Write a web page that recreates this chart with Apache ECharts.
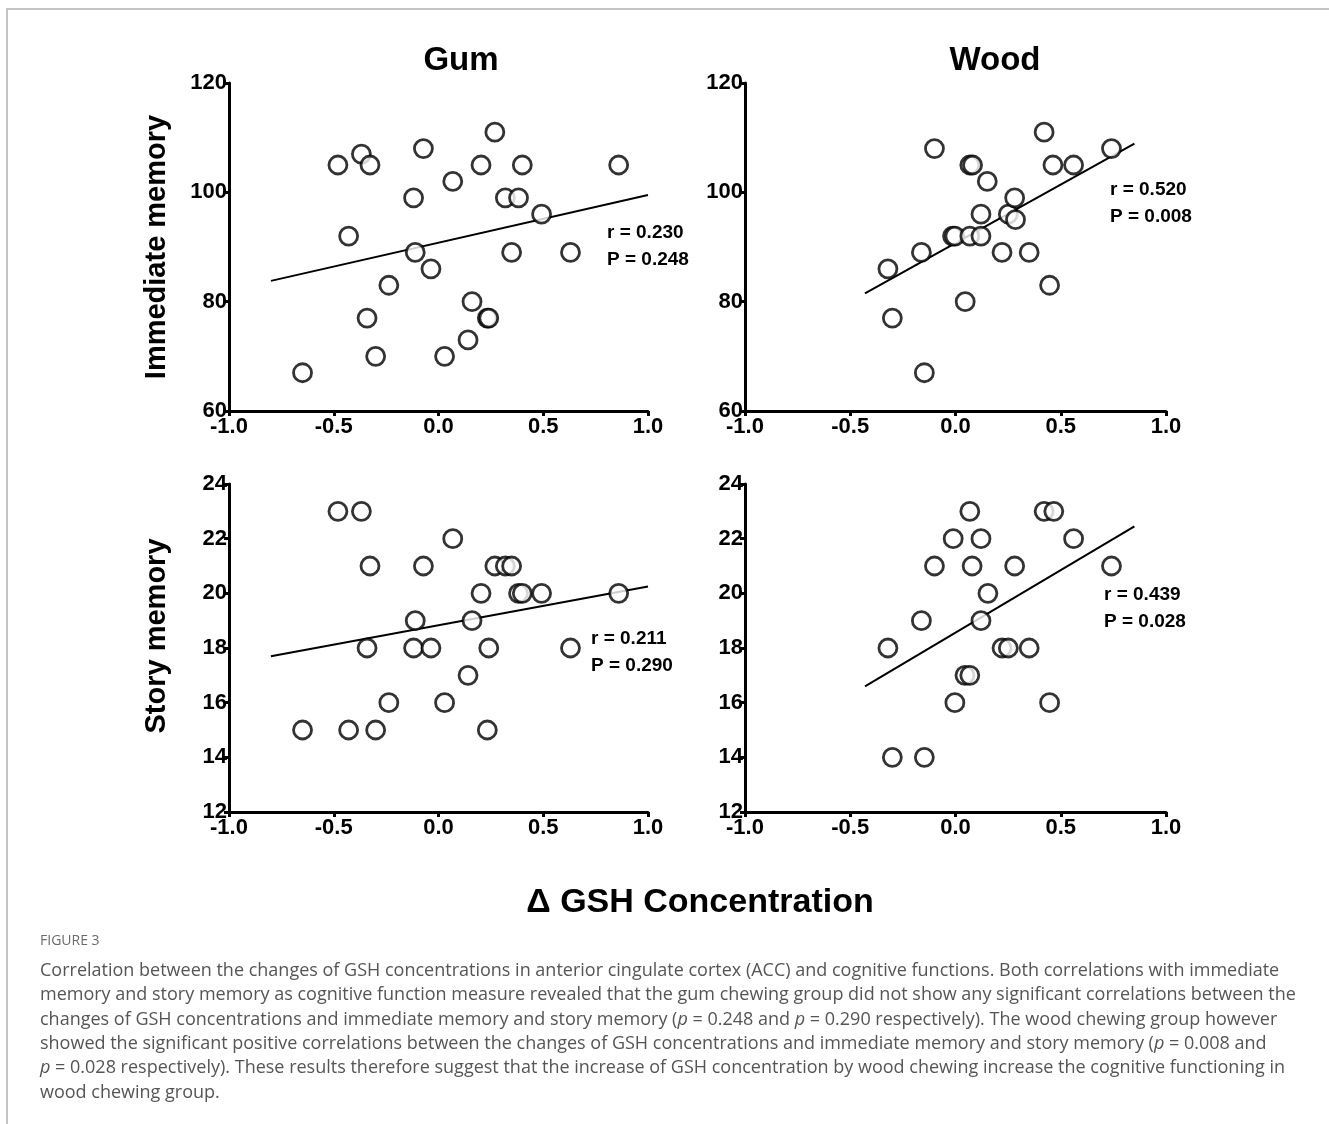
<!DOCTYPE html>
<html><head><meta charset="utf-8">
<script src="https://cdn.jsdelivr.net/npm/echarts@6/dist/echarts.min.js"></script>
<style>html,body{margin:0;padding:0;background:#fff}#c{width:1329px;height:1124px}</style>
</head><body><div id="c"></div>
<script>
// ---------- DATA ----------
const xTicks = [-1.0, -0.5, 0.0, 0.5, 1.0];
const panelTitles = ['Gum', 'Wood'];
const rowTitles = ['Immediate memory', 'Story memory'];
const xAxisTitle = '\u0394 GSH Concentration';

// Gum group: change of GSH (x) per subject, immediate memory and story memory
const gumX = [-0.649, -0.480, -0.368, -0.327, -0.429, -0.237, -0.341, -0.300, -0.119, -0.072, -0.111, -0.036, 0.068, 0.029, 0.203, 0.269, 0.160, 0.141, 0.233, 0.240, 0.319, 0.382, 0.400, 0.492, 0.349, 0.630, 0.860];
const gumImmediate = [67, 105, 107, 105, 92, 83, 77, 70, 99, 108, 89, 86, 102, 70, 105, 111, 80, 73, 77, 77, 99, 99, 105, 96, 89, 89, 105];
const gumStory = [15, 23, 23, 21, 15, 16, 18, 15, 18, 21, 19, 18, 22, 16, 20, 21, 19, 17, 15, 18, 21, 20, 20, 20, 21, 18, 20];

// Wood group
const woodImmX = [-0.321, -0.300, -0.162, -0.148, -0.100, -0.014, -0.003, 0.046, 0.068, 0.081, 0.068, 0.121, 0.121, 0.151, 0.221, 0.251, 0.281, 0.285, 0.350, 0.421, 0.463, 0.447, 0.561, 0.741];
const woodImmediate = [86, 77, 89, 67, 108, 92, 92, 80, 105, 105, 92, 96, 92, 102, 89, 96, 99, 95, 89, 111, 105, 83, 105, 108];
const woodStoryX = [-0.321, -0.300, -0.162, -0.148, -0.100, -0.011, -0.003, 0.045, 0.068, 0.068, 0.079, 0.121, 0.121, 0.154, 0.221, 0.251, 0.281, 0.350, 0.421, 0.467, 0.447, 0.561, 0.741];
const woodStory = [18, 14, 19, 14, 21, 22, 16, 17, 17, 23, 21, 22, 19, 20, 18, 18, 21, 18, 23, 23, 16, 22, 21];

// Regression lines (end points)
const gumImmFit = [[-0.80, 83.8], [1.00, 99.5]];
const woodImmFit = [[-0.43, 81.5], [0.85, 108.9]];
const gumStoryFit = [[-0.80, 17.7], [1.00, 20.25]];
const woodStoryFit = [[-0.43, 16.6], [0.85, 22.45]];

const statLabels = [['r = 0.230', 'P = 0.248'], ['r = 0.520', 'P = 0.008'], ['r = 0.211', 'P = 0.290'], ['r = 0.439', 'P = 0.028']];

const figureLabel = 'FIGURE 3';
const captionLines = [
  'Correlation between the changes of GSH concentrations in anterior cingulate cortex (ACC) and cognitive functions. Both correlations with immediate',
  'memory and story memory as cognitive function measure revealed that the gum chewing group did not show any significant correlations between the',
  'changes of GSH concentrations and immediate memory and story memory ({i|p} = 0.248 and {i|p} = 0.290 respectively). The wood chewing group however',
  'showed the significant positive correlations between the changes of GSH concentrations and immediate memory and story memory ({i|p} = 0.008 and',
  '{i|p} = 0.028 respectively). These results therefore suggest that the increase of GSH concentration by wood chewing increase the cognitive functioning in',
  'wood chewing group.'
];

// ---------- CHART ----------
const FONT = '"Liberation Sans", Arial, Helvetica, sans-serif';
const CAP_FONT = '"Open Sans", "Noto Sans", sans-serif';
const zip = (xs, ys) => xs.map((x, i) => [x, ys[i]]);

const grids = [
  {left: 229, top: 83, width: 419, height: 328},
  {left: 745, top: 83, width: 421, height: 328},
  {left: 229, top: 484, width: 419, height: 328},
  {left: 745, top: 484, width: 421, height: 328}
];
const axisCommon = {
  axisLine: {show: true, onZero: false, lineStyle: {color: '#000', width: 3}},
  axisTick: {show: true, length: 5, lineStyle: {color: '#000', width: 3}},
  splitLine: {show: false},
  axisLabel: {color: '#000', fontWeight: 'bold', fontSize: 22, fontFamily: FONT}
};
const xAxes = grids.map((g, i) => Object.assign({}, axisCommon, {
  type: 'value', gridIndex: i, min: xTicks[0], max: xTicks[xTicks.length - 1], interval: 0.5,
  axisLabel: Object.assign({}, axisCommon.axisLabel, {margin: 5, formatter: v => v.toFixed(1), showMinLabel: true, showMaxLabel: true})
}));
const yRanges = [[60, 120, 20], [60, 120, 20], [12, 24, 2], [12, 24, 2]];
const yAxes = grids.map((g, i) => Object.assign({}, axisCommon, {
  type: 'value', gridIndex: i, min: yRanges[i][0], max: yRanges[i][1], interval: yRanges[i][2],
  axisLabel: Object.assign({}, axisCommon.axisLabel, {margin: 2, showMinLabel: true, showMaxLabel: true})
}));

const scatterStyle = {color: '#fff', borderColor: '#000', borderWidth: 2.8};
const panels = [
  {pts: zip(gumX, gumImmediate), fit: gumImmFit},
  {pts: zip(woodImmX, woodImmediate), fit: woodImmFit},
  {pts: zip(gumX, gumStory), fit: gumStoryFit},
  {pts: zip(woodStoryX, woodStory), fit: woodStoryFit}
];
const series = [];
panels.forEach((p, i) => {
  series.push({type: 'line', xAxisIndex: i, yAxisIndex: i, data: p.fit, showSymbol: false, symbol: 'none',
    lineStyle: {color: '#000', width: 2}, z: 2, silent: true, animation: false});
  series.push({type: 'scatter', xAxisIndex: i, yAxisIndex: i, data: p.pts, symbol: 'circle', symbolSize: 18,
    itemStyle: scatterStyle, z: 3, animation: false});
});

const statPos = [[607, 233], [1110, 190], [591, 639], [1104, 595]];
const graphic = [];
graphic.push({type: 'rect', shape: {x: 7, y: 9, width: 1400, height: 1300}, style: {fill: 'none', stroke: '#c4c4c4', lineWidth: 2}, silent: true});
graphic.push({type: 'text', x: 461, y: 61, style: {text: panelTitles[0], font: 'bold 33px ' + FONT, fill: '#000', textAlign: 'center', textVerticalAlign: 'middle'}});
graphic.push({type: 'text', x: 995, y: 61, style: {text: panelTitles[1], font: 'bold 33px ' + FONT, fill: '#000', textAlign: 'center', textVerticalAlign: 'middle'}});
graphic.push({type: 'text', x: 157, y: 247, rotation: Math.PI / 2, style: {text: rowTitles[0], font: 'bold 29px ' + FONT, fill: '#000', textAlign: 'center', textVerticalAlign: 'middle'}});
graphic.push({type: 'text', x: 157, y: 636, rotation: Math.PI / 2, style: {text: rowTitles[1], font: 'bold 29px ' + FONT, fill: '#000', textAlign: 'center', textVerticalAlign: 'middle'}});
graphic.push({type: 'text', x: 700, y: 903, style: {text: xAxisTitle, font: 'bold 34px ' + FONT, fill: '#000', textAlign: 'center', textVerticalAlign: 'middle'}});
statLabels.forEach((s, i) => {
  graphic.push({type: 'text', x: statPos[i][0], y: statPos[i][1], style: {text: s[0], font: 'bold 19px ' + FONT, fill: '#000', textAlign: 'left', textVerticalAlign: 'middle'}});
  graphic.push({type: 'text', x: statPos[i][0], y: statPos[i][1] + 27, style: {text: s[1], font: 'bold 19px ' + FONT, fill: '#000', textAlign: 'left', textVerticalAlign: 'middle'}});
});
graphic.push({type: 'text', x: 40, y: 941, style: {text: figureLabel, font: '14px ' + CAP_FONT, fill: '#6a6a6a', textAlign: 'left', textVerticalAlign: 'middle'}});
captionLines.forEach((t, i) => {
  graphic.push({type: 'text', x: 40, y: 971 + i * 24.3, style: {text: t, fontSize: 18, fontFamily: CAP_FONT, fill: '#555',
    textAlign: 'left', textVerticalAlign: 'middle', rich: {i: {fontStyle: 'italic', fontSize: 18, fontFamily: CAP_FONT, fill: '#555'}}}});
});

const chart = echarts.init(document.getElementById('c'), null, {renderer: 'canvas'});
chart.setOption({
  backgroundColor: '#fff',
  animation: false,
  grid: grids,
  xAxis: xAxes,
  yAxis: yAxes,
  series: series,
  graphic: graphic
});
</script>
</body></html>
